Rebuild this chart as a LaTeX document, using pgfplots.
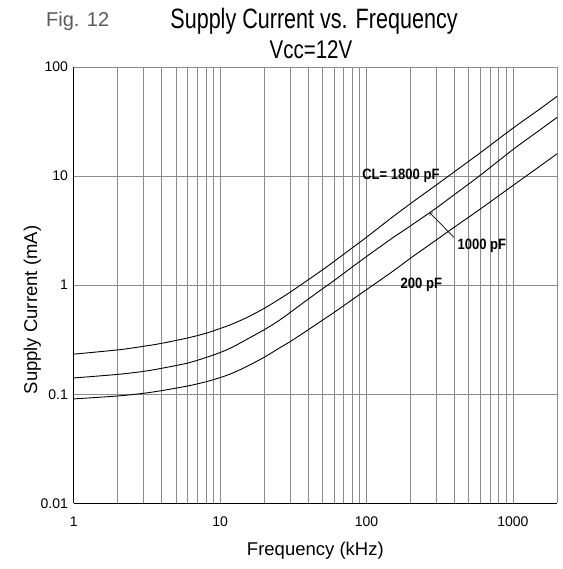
\documentclass[border=0pt]{standalone}
\usepackage{fontspec}
\setmainfont{Liberation Sans}
\newfontfamily\titlefont[FakeStretch=0.77]{Liberation Sans}
\newfontfamily\subfont[FakeStretch=0.8]{Liberation Sans}
\newfontfamily\labfont[FakeStretch=0.87]{Liberation Sans}
\usepackage{pgfplots}
\usepackage{pgfplotstable}
\pgfplotsset{compat=1.18}
\definecolor{gridgray}{RGB}{140,140,140}

% supply current (mA) vs frequency (kHz), per load capacitance
\pgfplotstableread{
f     c1800  c1000  c200
1     0.233  0.141  0.0906
2     0.255  0.152  0.0964
3     0.275  0.162  0.102
4     0.293  0.173  0.108
6     0.328  0.193  0.119
8     0.362  0.217  0.130
10    0.400  0.241  0.142
12    0.438  0.268  0.155
15    0.500  0.315  0.178
20    0.612  0.390  0.218
25    0.735  0.470  0.262
30    0.860  0.560  0.303
40    1.12   0.745  0.390
50    1.38   0.925  0.477
60    1.65   1.10   0.562
80    2.20   1.47   0.737
100   2.75   1.83   0.910
150   4.20   2.70   1.33
200   5.60   3.50   1.77
300   8.30   5.10   2.60
400   11.0   6.80   3.42
600   16.4   10.2   5.00
1000  27.5   17.5   8.20
1500  40.5   26.0   12.1
2000  53.8   34.5   16.0
}\currtable

\begin{document}
\begin{tikzpicture}
\useasboundingbox (-73.7bp,-65.7bp) rectangle (489.3bp,503.3bp);
\begin{axis}[
    at={(0,0)}, anchor=south west,
    scale only axis,
    width=483.3bp, height=436.3bp,
    xmode=log, ymode=log,
    xmin=1, xmax=2000, ymin=0.01, ymax=100,
    axis x line=bottom, axis y line=left,
    axis line style={-, black, line width=1bp},
    xtick={1,10,100,1000}, xticklabels={1,10,100,1000},
    minor xtick={2,3,4,5,6,7,8,9,20,30,40,50,60,70,80,90,200,300,400,500,600,700,800,900,2000},
    ytick={0.01,0.1,1,10,100}, yticklabels={0.01,0.1,1,10,100},
    xmajorgrids, xminorgrids, ymajorgrids,
    grid style={gridgray, line width=0.8bp},
    major tick length=0pt, minor tick length=0pt,
    tick label style={font=\fontsize{14bp}{16bp}\selectfont},
    xticklabel style={anchor=base, yshift=-23.4bp},
    yticklabel style={anchor=east, xshift=-2.3bp},
    xlabel={Frequency (kHz)},
    ylabel={Supply Current (mA)},
    label style={font=\fontsize{18.5bp}{20bp}\selectfont},
    xlabel style={at={(axis description cs:0.5,-0.1185)}, anchor=base},
    ylabel style={at={(axis description cs:-0.0759,0.443)}, anchor=base},
]
\addplot[black, line width=0.9bp, smooth] table[x=f, y=c1800] {\currtable};
\addplot[black, line width=0.9bp, smooth] table[x=f, y=c1000] {\currtable};
\addplot[black, line width=0.9bp, smooth] table[x=f, y=c200] {\currtable};

\node[anchor=base west, inner sep=0, font=\labfont\bfseries\fontsize{15bp}{17bp}\selectfont]
    at (axis cs:93.3,9.39) {CL= 1800 pF};
\node[anchor=base west, inner sep=0, font=\labfont\bfseries\fontsize{15bp}{17bp}\selectfont]
    at (axis cs:417,2.11) {1000 pF};
\node[anchor=base west, inner sep=0, font=\labfont\bfseries\fontsize{15bp}{17bp}\selectfont]
    at (axis cs:170.6,0.939) {200 pF};
\draw[->, black, line width=0.7bp] (axis cs:395,2.745) -- (axis cs:270.5,4.61);
\end{axis}

\node[anchor=base west, inner sep=0, text=black!65, font=\fontsize{20bp}{22bp}\selectfont]
    at (-27.7bp,476.3bp) {Fig. 12};
\node[anchor=base, inner sep=0, font=\titlefont\fontsize{28bp}{30bp}\selectfont]
    at (240.3bp,475bp) {Supply Current vs. Frequency};
\node[anchor=base, inner sep=0, font=\subfont\fontsize{25.6bp}{28bp}\selectfont]
    at (237.3bp,445bp) {Vcc=12V};
\end{tikzpicture}
\end{document}
